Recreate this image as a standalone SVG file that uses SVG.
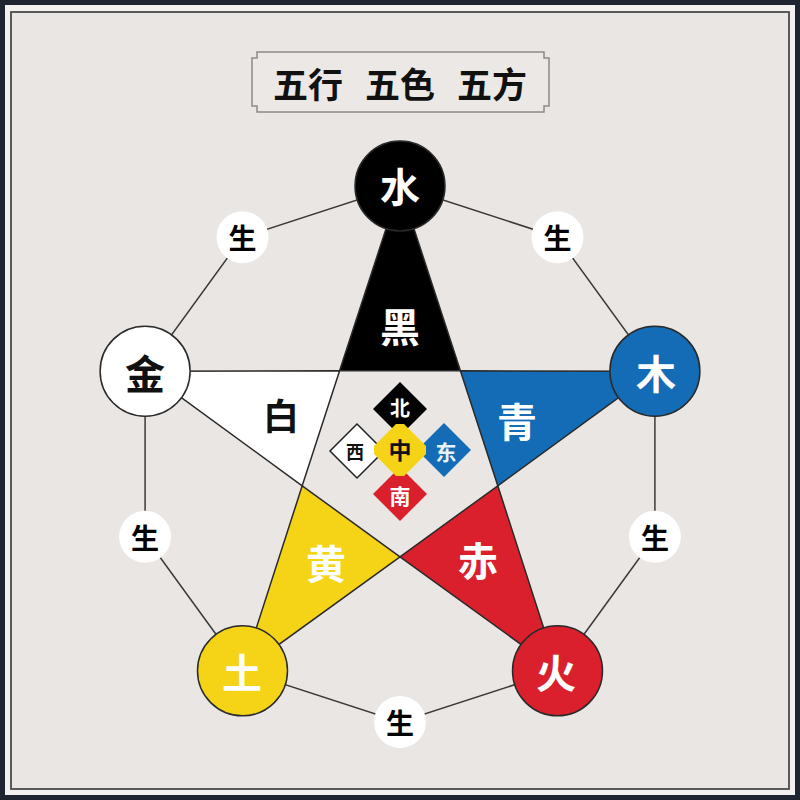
<svg xmlns="http://www.w3.org/2000/svg" width="800" height="800" viewBox="0 0 800 800">
<style>
.cjk{font-family:"Noto Sans CJK SC","Noto Sans CJK TC",sans-serif;font-weight:bold;text-anchor:middle;dominant-baseline:central}
.conn{stroke:#3a3a3a;stroke-width:1.5;fill:none}
.edge{stroke:#2a2a2a;stroke-width:1.5;stroke-linejoin:round}
.big{stroke:#2a2a2a;stroke-width:1.5}
.sheng{fill:#ffffff}
</style>
<rect x="0" y="0" width="800" height="800" fill="#1e2430"/>
<rect x="5" y="5" width="790" height="790" fill="#f3f1ef"/>
<rect x="11" y="12" width="778" height="777" fill="#e9e6e3" stroke="#4a4a4a" stroke-width="1.8"/>

<g id="title">
<path d="M257,52 H544 V58 H549 V106 H544 V112 H257 V106 H252 V58 H257 Z" fill="#ebe8e5" stroke="#8a8a8a" stroke-width="1.5"/>
<text x="400" y="82" class="cjk" font-size="35" font-weight="500" fill="#111" word-spacing="14">五行 五色 五方</text>
</g>

<g id="connectors">
<polygon class="conn" points="400,186 557.5,237.2 654.9,371.2 654.9,536.8 557.5,670.8 400,722 242.5,670.8 145.1,536.8 145.1,371.2 242.5,237.2"/>
</g>

<g id="arm-black"><polygon class="edge" fill="#000" points="400,186 339.6,370.8 460.4,370.8"/><text x="400" y="325" class="cjk" font-size="40" fill="#fff">黑</text></g>
<g id="arm-blue"><polygon class="edge" fill="#136cb5" points="654.9,371.2 460.4,370.8 497.8,485.8"/><text x="517" y="420" class="cjk" font-size="40" fill="#fff">青</text></g>
<g id="arm-red"><polygon class="edge" fill="#da1f2d" points="557.5,670.8 497.8,485.8 400,556.8"/><text x="478" y="559" class="cjk" font-size="40" fill="#fff">赤</text></g>
<g id="arm-yellow"><polygon class="edge" fill="#f5d417" points="242.5,670.8 400,556.8 302.2,485.8"/><text x="326" y="562" class="cjk" font-size="40" fill="#fff">黄</text></g>
<g id="arm-white"><polygon class="edge" fill="#fff" points="145.1,371.2 302.2,485.8 339.6,370.8"/><text x="281" y="414" class="cjk" font-size="36" fill="#111">白</text></g>

<g id="center">
<g id="bei"><polygon fill="#000" points="400,382 427,409 400,436 373,409"/><text x="400" y="407" class="cjk" font-size="20" fill="#fff">北</text></g>
<g id="xi"><polygon fill="#fff" stroke="#222" stroke-width="1.5" points="357,424 384,451 357,478 330,451"/><text x="355" y="451" class="cjk" font-size="18" fill="#111">西</text></g>
<g id="dong"><polygon fill="#136cb5" points="444,423 471,450 444,477 417,450"/><text x="446" y="451" class="cjk" font-size="21" fill="#e8f2fa">东</text></g>
<g id="nan"><polygon fill="#da1f2d" points="400,467 427,494 400,521 373,494"/><text x="400" y="495" class="cjk" font-size="21" fill="#fff">南</text></g>
<g id="zhong"><polygon fill="#f5d417" points="396,424 404,424 426,446 426,454 404,476 396,476 374,454 374,446"/><text x="400" y="449" class="cjk" font-size="23" fill="#111">中</text></g>
</g>

<g id="shui"><circle class="big" cx="400" cy="186" r="45" fill="#000"/><text x="400" y="185" class="cjk" font-size="40" fill="#fff">水</text></g>
<g id="mu"><circle class="big" cx="654.9" cy="371.2" r="45" fill="#136cb5"/><text x="656" y="372" class="cjk" font-size="40" fill="#fff">木</text></g>
<g id="huo"><circle class="big" cx="557.5" cy="670.8" r="45" fill="#da1f2d"/><text x="556" y="671" class="cjk" font-size="40" fill="#fff">火</text></g>
<g id="tu"><circle class="big" cx="242.5" cy="670.8" r="45" fill="#f5d417"/><text x="242" y="671" class="cjk" font-size="40" fill="#fff">土</text></g>
<g id="jin"><circle class="big" cx="145.1" cy="371.2" r="45" fill="#fff"/><text x="145" y="372" class="cjk" font-size="40" fill="#111">金</text></g>

<g id="sheng1"><circle class="sheng" cx="557.5" cy="237.2" r="26"/><text x="557.5" y="237" class="cjk" font-size="28" fill="#000">生</text></g>
<g id="sheng2"><circle class="sheng" cx="654.9" cy="536.8" r="26"/><text x="654.9" y="537" class="cjk" font-size="28" fill="#000">生</text></g>
<g id="sheng3"><circle class="sheng" cx="400" cy="722" r="26"/><text x="400" y="722" class="cjk" font-size="28" fill="#000">生</text></g>
<g id="sheng4"><circle class="sheng" cx="145.1" cy="536.8" r="26"/><text x="145.1" y="537" class="cjk" font-size="28" fill="#000">生</text></g>
<g id="sheng5"><circle class="sheng" cx="242.5" cy="237.2" r="26"/><text x="242.5" y="237" class="cjk" font-size="28" fill="#000">生</text></g>
</svg>
